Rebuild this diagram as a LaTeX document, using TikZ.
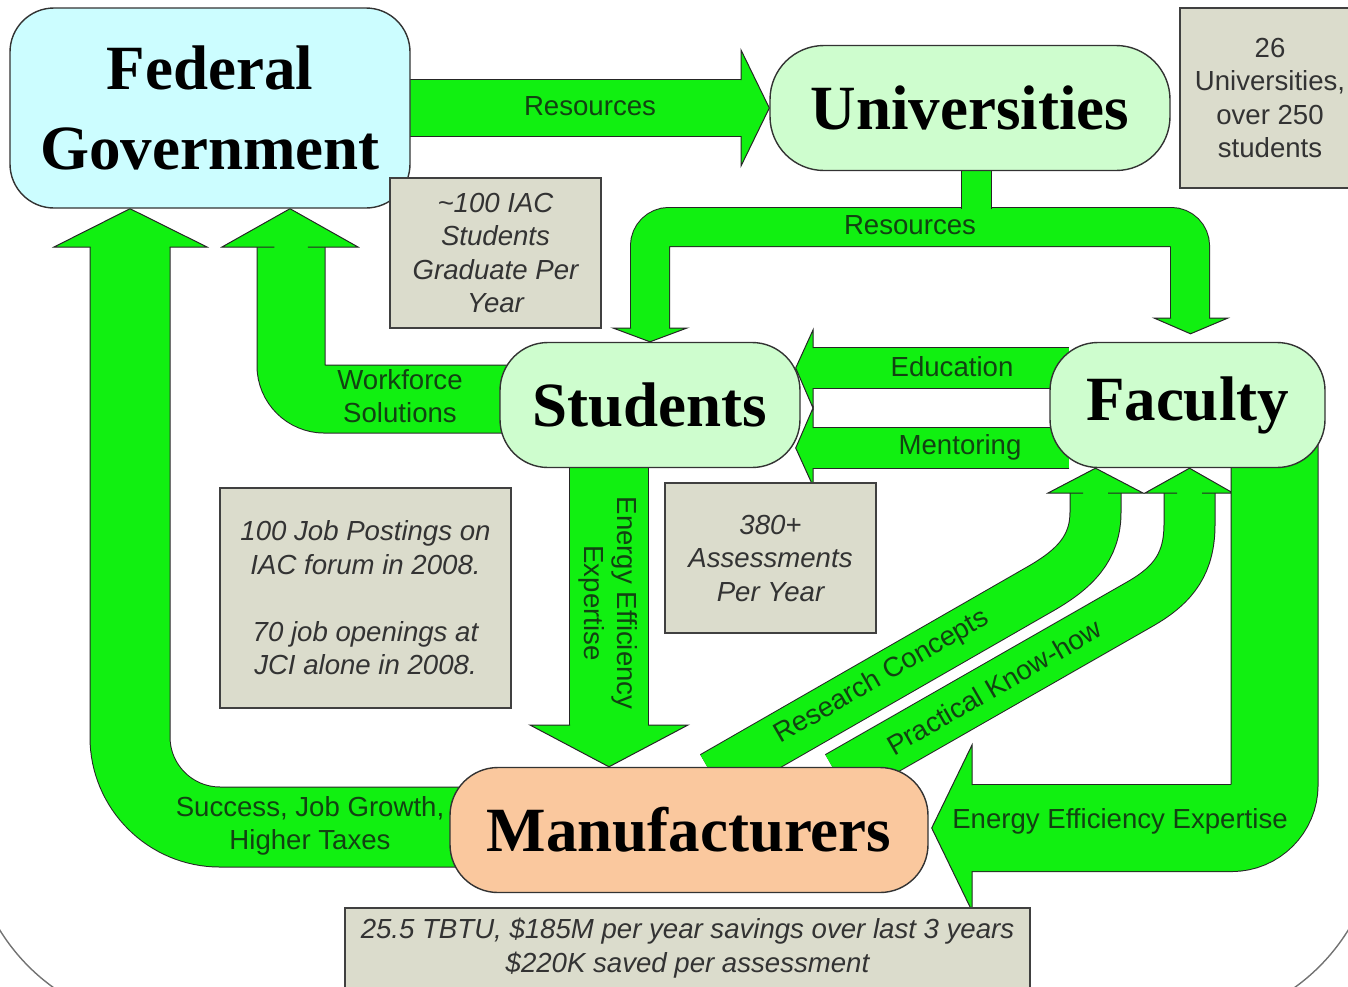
\documentclass[tikz,border=0pt]{standalone}
\usepackage{fontspec}
\setmainfont{Liberation Serif}
\setsansfont{Liberation Sans}
\usepackage{tikz}
\usetikzlibrary{positioning}
\definecolor{fedcyan}{RGB}{204,253,255}
\definecolor{unigreen}{RGB}{206,253,206}
\definecolor{manupeach}{RGB}{250,200,158}
\definecolor{notegrey}{RGB}{219,220,204}
\definecolor{flowgreen}{RGB}{17,240,17}
\definecolor{flowtext}{RGB}{18,66,18}
\pgfdeclarelayer{behind}
\pgfsetlayers{behind,main}
\tikzstyle{actor} = [draw=black!80, line width=0.7pt, align=center, inner sep=0pt, font=\bfseries\fontsize{31.5}{40}\selectfont]
\tikzstyle{note} = [draw=black!75, fill=notegrey, line width=0.7pt, align=center, inner sep=0pt, text=black!80, font=\sffamily\itshape\fontsize{13.8}{16.75}\selectfont]
\tikzstyle{band} = [draw=black!85, double=flowgreen, line width=0.5pt]
\tikzstyle{head} = [draw=black!85, fill=flowgreen, line width=0.5pt]
\tikzstyle{flowlabel} = [text=flowtext, align=center, inner sep=0pt, font=\sffamily\fontsize{13.8}{16.75}\selectfont]

\begin{document}
\begin{tikzpicture}[x=0.5pt, y=-0.5pt]
	\useasboundingbox (0,0) rectangle (1348,986);

	\node (fed) [actor, fill=fedcyan, minimum width=200pt, minimum height=100pt, rounded corners=22pt] at (210,108) {Federal\\Government};
	\node (univ) [actor, fill=unigreen, minimum width=200pt, minimum height=62.5pt, rounded corners=27pt] at (970,108) {Universities};
	\node (stud) [actor, fill=unigreen, minimum width=150pt, minimum height=62.5pt, rounded corners=24pt] at (650,405) {Students};
	\node (fac) [actor, fill=unigreen, minimum width=137.5pt, minimum height=62.5pt, rounded corners=24pt] at (1187.5,405) {Faculty};
	\node (manu) [actor, fill=manupeach, minimum width=239pt, minimum height=62.5pt, rounded corners=24pt] at (689,830) {Manufacturers};

	\begin{pgfonlayer}{behind}
		\draw [black!55, line width=0.7pt, rounded corners=100pt] (-30,-400) rectangle (1378,1025);

		% government to universities
		\draw [band, double distance=28pt] ([xshift=-5pt]fed.east) -- (741,108);
		\draw [head] (741,80) -- (741,50) -- (univ.west) -- (741,166) -- (741,136);

		% universities to students and faculty
		\draw [band, double distance=19pt, rounded corners=9.5pt] (650,328) -- (650,227) -- (1190,227) -- (1190,318);
		\draw [band, double distance=14.5pt] ([xshift=3pt,yshift=5pt]univ.south) -- (976,209);
		\draw [head] (631,328) -- (613,328) -- (stud.north) -- (687,328) -- (669,328);
		\draw [head] (1171,318) -- (1154,318) -- ([xshift=1.5pt,yshift=4pt]fac.north) -- (1228,318) -- (1209,318);

		% students to government
		\draw [band, double distance=33.5pt, rounded corners=16.75pt] ([xshift=10pt,yshift=3pt]stud.west) -- (291,399) -- (291,247);
		\draw [head] (274.25,247) -- (222,247) -- ([xshift=40pt]fed.south) -- (358,247) -- (307.75,247);

		% manufacturers to government
		\draw [band, double distance=39.5pt, rounded corners=45pt] ([xshift=10pt,yshift=1.5pt]manu.west) -- (130,827) -- (130,247);
		\draw [head] (90.5,247) -- (54,247) -- ([xshift=-40pt]fed.south) -- (207,247) -- (169.5,247);

		% faculty to students
		\draw [band, double distance=20pt] ([xshift=10pt,yshift=18.5pt]fac.west) -- (813,368);
		\draw [band, double distance=20pt] ([xshift=10pt,yshift=-21.5pt]fac.west) -- (813,448);

		% students to manufacturers
		\draw [band, double distance=39pt] ([xshift=-20.5pt,yshift=5pt]stud.south) -- (609,725);
		\draw [head] (570,725) -- (530,725) -- ([xshift=-40pt]manu.north) -- (688,725) -- (648,725);

		% manufacturers to faculty
		\draw [band, double distance=25pt] ([xshift=12pt,yshift=-5pt]manu.north) -- (1040,589) .. controls (1075,569) and (1095.5,548) .. (1095.5,512) -- (1095.5,493);
		\draw [head] (1083,493) -- (1048,493) -- ([xshift=-46pt]fac.south) -- (1143,493) -- (1108,493);
		\draw [band, double distance=25pt] ([xshift=74.5pt,yshift=-5pt]manu.north) -- (1140,604) .. controls (1175,584) and (1189.5,562) .. (1189.5,524) -- (1189.5,493);
		\draw [head] (1177,493) -- (1145,493) -- ([xshift=1pt]fac.south) -- (1233,493) -- (1202,493);

		% faculty to manufacturers
		\draw [band, double distance=43pt, rounded corners=21.5pt] ([xshift=43.5pt,yshift=20pt]fac.south) -- (1274.5,828) -- (972,828);
		\draw [head] (972,785) -- (972,745) -- ([xshift=1.5pt,yshift=1pt]manu.east) -- (972,911) -- (972,871);
	\end{pgfonlayer}

	\draw [head] (813,348) -- (813,330) -- ([xshift=-2.5pt,yshift=18.5pt]stud.east) -- (813,408) -- (813,388);
	\draw [head] (813,428) -- (813,408) -- ([xshift=-2.5pt,yshift=-21.5pt]stud.east) -- (813,486) -- (813,468);

	\node (lres1) [flowlabel] at (590,106) {Resources};
	\node (lres2) [flowlabel] at (910,225) {Resources};
	\node (lwork) [flowlabel] at (400,396) {Workforce\\Solutions};
	\node (lsucc) [flowlabel] at (310,826) {Success, Job Growth,\\Higher Taxes};
	\node (ledu) [flowlabel] at (952,367) {Education};
	\node (lment) [flowlabel] at (960,447) {Mentoring};
	\node (lexp) [flowlabel, rotate=-90] at (608,603) {Energy Efficiency\\Expertise};
	\node (lres) [flowlabel, rotate=30] at (882,677) {Research Concepts};
	\node (lprac) [flowlabel, rotate=30] at (994,687) {Practical Know-how};
	\node (lenergy) [flowlabel] at (1120,821) {Energy Efficiency Expertise};

	\node (unote) [note, font=\sffamily\upshape\fontsize{13.8}{16.75}\selectfont, minimum width=90pt, minimum height=90pt] at (1270,98) {26\\Universities,\\over 250\\students};
	\node (iacnote) [note, minimum width=105.5pt, minimum height=75pt] at (495.5,253) {\textasciitilde100 IAC\\Students\\Graduate Per\\Year};
	\node (jobnote) [note, minimum width=145.5pt, minimum height=110pt] at (365.5,598) {100 Job Postings on\\IAC forum in 2008.\\[16.75pt]70 job openings at\\JCI alone in 2008.};
	\node (asnote) [note, minimum width=105.5pt, minimum height=75pt] at (770.5,558) {380+\\Assessments\\Per Year};
	\node (savenote) [note, minimum width=342.5pt, minimum height=40pt] at (687.5,948) {25.5 TBTU, \$185M per year savings over last 3 years\\\$220K saved per assessment};

\end{tikzpicture}
\end{document}
